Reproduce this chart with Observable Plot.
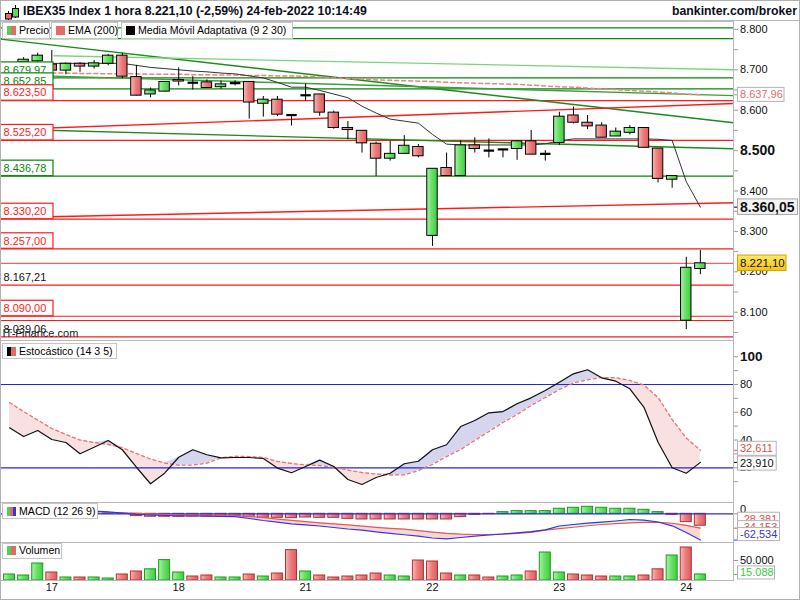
<!DOCTYPE html>
<html>
<head>
<meta charset="utf-8">
<script src="https://cdn.jsdelivr.net/npm/d3@7"></script>
<script src="https://cdn.jsdelivr.net/npm/@observablehq/plot@0.6"></script>
<style>
  html, body { margin: 0; padding: 0; background: #fff; }
  #chart { position: relative; width: 800px; height: 600px; overflow: hidden; background: #fff;
           font-family: "Liberation Sans", Arial, sans-serif; color: #000; }
  .legend { position: absolute; box-sizing: border-box; border: 1px solid #c4c4c4; background: #fff;
            font-size: 10.6px; white-space: nowrap; padding-left: 16px; z-index: 5; }
  .legend .icon { position: absolute; left: 4px; top: 3px; width: 9px; height: 9px; }
  .ttl { position: absolute; top: 0; height: 21px; line-height: 23px; font-weight: bold; font-size: 12.3px; color: #0d0d1a; z-index: 5; }
  .sep { position: absolute; left: 0; width: 800px; height: 1px; background: #b8b8b8; z-index: 6; }
  .border { position: absolute; left: 0; top: 0; width: 800px; height: 600px; box-sizing: border-box; border: 1px solid #b0b0b0; z-index: 7; pointer-events: none; }
</style>
</head>
<body>
<div id="chart"></div>
<script>
// ================= DATA =================
const titleText = "IBEX35 Index 1 hora 8.221,10 (-2,59%) 24-feb-2022 10:14:49";
const brandText = "bankinter.com/broker";
const dayLabels = ["17", "18", "21", "22", "23", "24"];
const dayStart  = [3, 12, 21, 30, 39, 48];

const open  = [8690,8719,8721,8713,8698,8715,8708,8715,8735,8682,8639,8646,8675,8668,8669,8657,8667,8670,8616,8626,8588,8637,8639,8594,8556,8549,8517,8480,8492,8509,8289,8457,8437,8513,8500,8503,8504,8523,8492,8519,8587,8569,8562,8535,8544,8556,8505,8428,8079,8207];
const high  = [8705,8730,8741,8748,8717,8718,8723,8738,8741,8711,8655,8671,8705,8683,8675,8672,8673,8671,8634,8634,8589,8665,8639,8598,8572,8549,8521,8523,8537,8515,8455,8494,8525,8532,8529,8503,8525,8550,8500,8595,8608,8587,8569,8556,8562,8556,8505,8437,8236,8253];
const low   = [8686,8715,8718,8696,8688,8694,8702,8710,8678,8635,8631,8645,8660,8650,8655,8652,8660,8578,8583,8584,8561,8622,8585,8553,8527,8494,8436,8474,8492,8482,8263,8437,8437,8494,8482,8482,8476,8490,8474,8513,8566,8552,8532,8535,8539,8507,8420,8407,8057,8193];
const close = [8700,8725,8735,8698,8715,8708,8716,8735,8683,8636,8649,8670,8671,8668,8655,8664,8667,8619,8626,8589,8588,8637,8594,8556,8551,8518,8480,8492,8512,8486,8455,8437,8513,8504,8500,8503,8523,8490,8492,8584,8569,8560,8532,8547,8556,8507,8430,8437,8210,8221.10];

const ema200 = [null,null,null,8692,8692,8691,8691,8690,8690,8690,8689,8689,8689,8688,8688,8687,8687,8686,8686,8685,8685,8684,8682,8680,8678,8677,8675,8674,8673,8672,8671,8669,8668,8667,8666,8665,8664,8662,8660,8658,8657,8655,8653,8651,8649,8647,8645,8643,8640,8637.96];
const ama    = [8716,8716,8716,8716,8716,8716,8716,8716,8716,8711,8706,8703,8700,8697,8695,8692,8690,8685,8680,8669,8657,8657,8649,8640,8631,8610,8593,8578,8573,8568,8540,8516,8514,8514,8514,8514,8514,8514,8517,8524,8529,8529,8529,8529,8529,8529,8528,8525,8423,8360.05];

const levelValues = [8804, 8777, 8679.97, 8652.85, 8623.50, 8525.20, 8436.78, 8330.20, 8257.00, 8221.10, 8167.21, 8090.00, 8079.5, 8039.06];
const levelKinds  = ["g", "g", "g", "g", "r", "r", "g", "r", "r", "p", "r", "r", "r", "r"];
const levelLabel  = ["", "", "box", "box", "box", "box", "box", "box", "box", "", "text", "box", "", "text"];

const trendX1 = [-0.64, 3.12, -0.64, -0.64, -0.64, -0.64];
const trendY1 = [8776, 8735, 8688, 8553.5, 8551.5, 8334];
const trendX2 = [51.35, 51.35, 51.35, 51.35, 51.35, 51.35];
const trendY2 = [8569, 8700, 8636, 8504.5, 8616.6, 8371];
const trendKind = ["dg", "lg", "mg", "dg", "r", "r"];

const mainTickLabels = [8100, 8200, 8300, 8400, 8600, 8700, 8800];
const mainBoldTick = [8500];
const mainMinorTicks = [8050, 8150, 8250, 8350, 8450, 8550, 8650, 8750];

const stochK = [48.8,42.5,46.9,40.4,38.2,30.1,34.8,39.7,33.0,20.4,8.5,16.1,27.6,33.0,29.4,27.2,27.4,27.4,26.7,19.8,16.4,20.9,25.5,20.9,11.6,8.0,13.0,16.1,22.9,24.7,33.0,36.6,49.7,54.1,59.6,60.5,66.1,70.4,75.7,81.7,87.7,90.6,84.8,82.4,76.9,63.6,38.4,20.0,16.1,23.910];
const stochD = [67.0,60.5,54.4,48.3,44.0,40.0,38.2,36.8,34.5,30.3,26.3,23.4,21.9,22.0,23.3,27.2,28.3,28.1,27.4,24.7,23.1,22.1,21.6,20.4,18.4,16.6,15.5,14.8,14.9,18.0,22.5,28.1,33.2,39.7,46.1,52.6,58.4,64.9,70.6,76.4,81.1,83.4,85.0,84.9,82.9,79.6,70.6,54.8,41.5,32.611];
const stochLevels = [20, 80];
const stochTickLabels = [20, 40, 60, 80];
const stochBoldTick = [100];
const stochMinorTicks = [10, 30, 50, 70, 90];

const macdLine   = [10,9,8.5,8,7.5,7,6.5,4.5,1.9,-1.2,-2.9,-4,-4.8,-5.2,-5.7,-6.4,-6.9,-11.2,-16,-20,-23.8,-26.2,-29,-32.6,-36.2,-39,-42.9,-46.4,-49.8,-53.3,-57.6,-59.5,-56.4,-52.9,-50.5,-48.1,-45.2,-42.6,-38.1,-29,-25.5,-22.4,-20,-17.1,-13.6,-15.2,-19.5,-28.6,-44.5,-62.534];
const macdSignal = [8,7.5,7,6.5,6,5.5,5.5,3.5,2.5,1.0,-0.3,-1.3,-2.2,-3.0,-3.5,-3.8,-4.2,-6,-9,-12.5,-15.5,-18.5,-21.5,-23.8,-26.5,-29.5,-32.3,-34.5,-36.5,-40,-43.5,-46.5,-48.5,-49.3,-49.5,-48.5,-46.5,-44,-39,-35.5,-32,-28.5,-25.5,-23.5,-21.5,-20.5,-20.5,-22.5,-27.5,-34.153];
const macdHist   = [1,1,1,1,1,0.5,0.5,1,-0.5,-5.5,-7,-7,-7,-6.5,-6.5,-6.5,-5.5,-8,-9.5,-9.5,-10.3,-8.8,-9.5,-9.5,-12,-13.5,-13.5,-13.5,-13.5,-13.5,-13.5,-13.5,-8,-2.4,-0.7,4,6.4,6.4,6.4,12,14.3,16.7,14.3,12,12,9.5,4,-2.4,-19.8,-28.381];

const volume = [15000,12500,42500,20000,7500,7500,7500,5000,15000,22500,28000,51000,20000,10000,12500,7500,7500,15000,10000,17500,76000,22500,12500,7500,10000,12500,17500,12500,10000,50000,47500,17500,12500,12500,7500,10000,12500,22500,70000,20000,15000,12500,10000,10000,10000,12500,28000,62500,82500,15088];
const volumeDir = ("uuududuudd" + "uuudduudud" + "duddddduud" + "ddudduuduu" + "ddduuddudu").split("");
</script>
<script>
// ============ helpers & layout ============
const fmtL = d3.formatLocale({decimal: ",", thousands: ".", grouping: [3], currency: ["", ""], minus: "-"});
const f0 = fmtL.format(",.0f"), f2 = fmtL.format(",.2f"), f3 = fmtL.format(",.3f");

const chart = document.getElementById("chart");
const FONT = '"Liberation Sans", Arial, sans-serif';
const X_DOM = [-0.64, 51.35];
const MR = 67;
const PXI = (800 - MR) / (X_DOM[1] - X_DOM[0]);
const XL = X_DOM[0], XR = X_DOM[1];
const HC = 0.37, HB = 0.39;
const GREEN = "#0b840b", RED = "#ff1a1a";
const kindColor = {g: GREEN, r: RED, p: "#f26262", dg: "#1c8a1c", lg: "#7ad67a", mg: "#3d9e3d"};

function makePanel({top, height, yDomain, marginBottom = 0, marks}) {
  const svg = Plot.plot({
    width: 800, height, marginLeft: 0, marginRight: MR, marginTop: 0, marginBottom,
    x: {domain: X_DOM, axis: null}, y: {domain: yDomain, axis: null},
    style: {background: "white", fontFamily: FONT, fontSize: "11px", color: "#000", overflow: "hidden"},
    marks
  });
  svg.style.position = "absolute"; svg.style.left = "0px"; svg.style.top = top + "px";
  chart.appendChild(svg);
  return svg;
}
const tickMarks = (vals, stroke = "#9a9a9a", len = 5) => Plot.ruleY(vals, {y: d => d, x1: XR, x2: XR + len / PXI, stroke});
const tickText = (vals, fmt, o = {}) => Plot.text(vals, {y: d => d, x: XR, dx: o.dx ?? 6.5, dy: o.dy ?? 0, text: d => fmt(d), textAnchor: "start",
  fontSize: o.fs ?? 11, fontWeight: o.bold ? "bold" : "normal", fill: o.color ?? "#111"});
function valueBox(v, pxv, o) {
  const h = o.h ?? 14;
  return [
    Plot.rect([v], {x1: XR + 4.5 / PXI, x2: XR + (4.5 + o.w) / PXI, y1: d => d - h / 2 / pxv, y2: d => d + h / 2 / pxv, dy: o.dy ?? 0,
      fill: o.fill ?? "white", stroke: o.stroke ?? "#b4b4b4"}),
    tickText([v], o.fmt, {dy: o.dy ?? 0, fs: o.fs, bold: o.bold, color: o.color})
  ];
}
const defsMark = () => {
  const g = document.createElementNS("http://www.w3.org/2000/svg", "g");
  g.innerHTML = `<defs>
    <linearGradient id="gUp" x1="0" x2="1" y1="0" y2="0"><stop offset="0" stop-color="#a8f3a8"/><stop offset="0.45" stop-color="#6ae26a"/><stop offset="1" stop-color="#3fcd3f"/></linearGradient>
    <linearGradient id="gDn" x1="0" x2="1" y1="0" y2="0"><stop offset="0" stop-color="#f7b8b8"/><stop offset="0.45" stop-color="#ec8080"/><stop offset="1" stop-color="#dc5c5c"/></linearGradient>
    <linearGradient id="gYel" x1="0" x2="0" y1="0" y2="1"><stop offset="0" stop-color="#ffe870"/><stop offset="1" stop-color="#f6c400"/></linearGradient>
  </defs>`;
  return g;
};

// ============ MAIN PANEL ============
const MAIN_DOM = [8030, 8819.6], MAIN_H = 319;
const pxvMain = MAIN_H / (MAIN_DOM[1] - MAIN_DOM[0]);
const candles = open.map((o, i) => ({i, o, h: high[i], l: low[i], c: close[i]}));
const bodiesUp = candles.filter(d => d.c > d.o), bodiesDn = candles.filter(d => d.c < d.o), dojis = candles.filter(d => d.c === d.o);
const levels = levelValues.map((v, k) => ({v, color: kindColor[levelKinds[k]], label: levelLabel[k]}));
const trends = trendX1.map((x, k) => ({x1: x, y1: trendY1[k], x2: trendX2[k], y2: trendY2[k], color: kindColor[trendKind[k]]}));
const emaData = ema200.map((v, i) => ({i, v})).filter(d => d.v != null);
const amaData = ama.map((v, i) => ({i, v}));

const leftLabelMarks = [];
levels.filter(d => d.label).sort((a, b) => b.v - a.v).forEach(d => {
  if (d.label === "box") {
    leftLabelMarks.push(Plot.rect([d], {x1: XL, x2: XL + 53 / PXI, y1: "v", y2: e => e.v + 15.5 / pxvMain, fill: "white", stroke: d.color, strokeWidth: 1.2}));
    leftLabelMarks.push(Plot.text([d], {x: XL, y: "v", dx: 3, dy: -7.8, text: e => f2(e.v), textAnchor: "start", fill: d.color, fontSize: 11}));
  } else {
    leftLabelMarks.push(Plot.text([d], {x: XL, y: "v", dx: 3, dy: -7.5, text: e => f2(e.v), textAnchor: "start", fill: "#111", fontSize: 11}));
  }
});

makePanel({top: 21, height: MAIN_H, yDomain: MAIN_DOM, marks: [
  defsMark,
  Plot.ruleY(levels, {y: "v", stroke: "color", strokeWidth: 1.2}),
  Plot.link(trends, {x1: "x1", y1: "y1", x2: "x2", y2: "y2", stroke: "color", strokeWidth: 1.4}),
  Plot.line(emaData, {x: "i", y: "v", stroke: "#e98484", strokeWidth: 1.5, strokeDasharray: "4,3"}),
  Plot.line(amaData, {x: "i", y: "v", stroke: "#333", strokeWidth: 1}),
  Plot.ruleX(candles, {x: "i", y1: "l", y2: "h", stroke: "#000", strokeWidth: 1}),
  Plot.rect(bodiesUp, {x1: d => d.i - HC, x2: d => d.i + HC, y1: "o", y2: "c", fill: "url(#gUp)", stroke: "#000", strokeWidth: 1}),
  Plot.rect(bodiesDn, {x1: d => d.i - HC, x2: d => d.i + HC, y1: "o", y2: "c", fill: "url(#gDn)", stroke: "#000", strokeWidth: 1}),
  Plot.link(dojis, {x1: d => d.i - HC, x2: d => d.i + HC, y1: "o", y2: "o", stroke: "#000", strokeWidth: 2.2}),
  ...leftLabelMarks,
  Plot.text(["IT-Finance.com"], {frameAnchor: "bottom-left", dx: 2, dy: -4, text: d => d, textAnchor: "start", fontSize: 11, fill: "#222"}),
  tickMarks(mainMinorTicks), tickMarks(mainTickLabels), tickMarks(mainBoldTick),
  tickText(mainTickLabels, f0),
  tickText(mainBoldTick, f0, {fs: 14, bold: true}),
  tickMarks([ema200[49]], "#e98484", 4),
  ...valueBox(ema200[49], pxvMain, {w: 46.5, fmt: f2, color: "#e46a6a"}),
  tickMarks([ama[49]], "#000", 4),
  ...valueBox(ama[49], pxvMain, {w: 60, h: 15.5, fmt: f2, fs: 14, bold: true, fill: "#f3f3f3", stroke: "#a8a8a8"}),
  ...valueBox(close[49], pxvMain, {w: 48.5, h: 15.5, fmt: f2, fs: 11.5, fill: "url(#gYel)", stroke: "#c9a800"}),
  Plot.frame({stroke: "#b8b8b8"})
]});

// ============ STOCHASTIC ============
const ST_DOM = [-5, 111.7], ST_H = 162;
const pxvSt = ST_H / (ST_DOM[1] - ST_DOM[0]);
const st = stochK.map((k, i) => ({i, k, d: stochD[i]}));
makePanel({top: 340, height: ST_H, yDomain: ST_DOM, marks: [
  Plot.areaY(st, {x: "i", y1: "d", y2: e => Math.max(e.k, e.d), fill: "#d5d5ee"}),
  Plot.areaY(st, {x: "i", y1: "d", y2: e => Math.min(e.k, e.d), fill: "#fae1e1"}),
  Plot.ruleY(stochLevels, {y: d => d, stroke: "#2626d6", strokeWidth: 1.2}),
  Plot.line(st, {x: "i", y: "d", stroke: "#e67272", strokeWidth: 1.3, strokeDasharray: "3,3"}),
  Plot.line(st, {x: "i", y: "k", stroke: "#111", strokeWidth: 1.2}),
  tickMarks(stochMinorTicks), tickMarks(stochTickLabels), tickMarks(stochBoldTick),
  tickText(stochTickLabels, d => String(d)),
  tickText(stochBoldTick, d => String(d), {fs: 13.5, bold: true}),
  tickMarks([stochD[49]], "#e05050", 4),
  ...valueBox(stochD[49], pxvSt, {w: 38.7, fmt: f3, color: "#e05050", dy: -1.5}),
  tickMarks([stochK[49]], "#000", 4),
  ...valueBox(stochK[49], pxvSt, {w: 38.7, fmt: f3, color: "#111", dy: 1.2}),
  Plot.frame({stroke: "#b8b8b8"})
]});

// ============ MACD ============
const MD_DOM = [-68.3, 26.9], MD_H = 40;
const pxvMd = MD_H / (MD_DOM[1] - MD_DOM[0]);
const md = macdLine.map((m, i) => ({i, m, s: macdSignal[i], h: macdHist[i]}));
makePanel({top: 502, height: MD_H, yDomain: MD_DOM, marks: [
  Plot.areaY(md, {x: "i", y1: "s", y2: e => Math.max(e.m, e.s), fill: "#d9f4d9"}),
  Plot.areaY(md, {x: "i", y1: "s", y2: e => Math.min(e.m, e.s), fill: "#f8d6d6"}),
  Plot.rect(md.filter(e => e.h >= 0), {x1: e => e.i - HB, x2: e => e.i + HB, y1: e => 0, y2: "h", fill: "url(#gUp)", stroke: "#1f981f"}),
  Plot.rect(md.filter(e => e.h < 0), {x1: e => e.i - HB, x2: e => e.i + HB, y1: e => 0, y2: "h", fill: "url(#gDn)", stroke: "#b03232"}),
  Plot.ruleY([0], {y: d => d, stroke: "#2a2ad8", strokeWidth: 1.2}),
  Plot.line(md, {x: "i", y: "s", stroke: "#e05a5a", strokeWidth: 1.2}),
  Plot.line(md, {x: "i", y: "m", stroke: "#3535e0", strokeWidth: 1.2}),
  tickMarks([0]),
  tickText([0], d => String(d), {dy: -4}),
  ...valueBox(macdHist[49], pxvMd, {w: 42, h: 13, fmt: f3, color: "#e05050", dy: -6.5}),
  tickMarks([macdSignal[49]], "#e05050", 4),
  ...valueBox(macdSignal[49], pxvMd, {w: 42, h: 12, fmt: f3, color: "#e05050", dy: -1}),
  tickMarks([macdLine[49]], "#3535e0", 4),
  ...valueBox(macdLine[49], pxvMd, {w: 42, h: 13, fmt: f3, color: "#3535d0", dy: -5.5}),
  Plot.frame({stroke: "#b8b8b8"})
]});

// ============ VOLUME ============
const VO_DOM = [0, 95000], VO_H = 58, VO_MB = 20;
const pxvVo = (VO_H - VO_MB) / (VO_DOM[1] - VO_DOM[0]);
const vo = volume.map((v, i) => ({i, v, dir: volumeDir[i]}));
makePanel({top: 542, height: VO_H, yDomain: VO_DOM, marginBottom: VO_MB, marks: [
  Plot.rect(vo.filter(e => e.dir === "u"), {x1: e => e.i - HB, x2: e => e.i + HB, y1: e => 0, y2: "v", fill: "url(#gUp)", stroke: "#1f981f"}),
  Plot.rect(vo.filter(e => e.dir === "d"), {x1: e => e.i - HB, x2: e => e.i + HB, y1: e => 0, y2: "v", fill: "url(#gDn)", stroke: "#b03232"}),
  tickMarks([50000]),
  tickText([50000], f0),
  tickMarks([volume[49]], "#3cc83c", 4),
  ...valueBox(volume[49], pxvVo, {w: 37, h: 13, fmt: f0, color: "#3cc83c", dy: -1.5}),
  Plot.text(dayLabels, {x: (d, k) => dayStart[k], frameAnchor: "bottom", dy: 10.5, text: d => d, fontSize: 11, fill: "#111"}),
  Plot.frame({stroke: "#b8b8b8"})
]});

// ============ HTML: title, legends, border ============
function addEl(tag, cls, style, html) {
  const e = document.createElement(tag);
  if (cls) e.className = cls;
  Object.assign(e.style, style);
  if (html != null) e.innerHTML = html;
  chart.appendChild(e);
  return e;
}
addEl("div", "", {position: "absolute", left: "0", top: "0", width: "800px", height: "21px", background: "#fff", zIndex: 4});
addEl("div", "", {position: "absolute", left: "2px", top: "2px", width: "18px", height: "18px", zIndex: 5},
  `<svg width="18" height="18"><line x1="6.5" y1="9" x2="6.5" y2="18" stroke="#000"/><rect x="3.5" y="11.5" width="6" height="5.5" fill="#e66" stroke="#000"/>
   <line x1="13.5" y1="3" x2="13.5" y2="16" stroke="#000"/><rect x="10.5" y="6.5" width="6" height="8.5" fill="#5d5" stroke="#000"/></svg>`);
const t = addEl("div", "ttl", {left: "23px"}); t.textContent = titleText;
const b = addEl("div", "ttl", {right: "3px"}); b.textContent = brandText;
addEl("div", "sep", {top: "20px"});

function legend(left, top, width, height, label, colors) {
  const d = addEl("div", "legend", {left: left + "px", top: top + "px", width: width + "px", height: height + "px", lineHeight: (height - 2) + "px"});
  const n = colors.length, stops = colors.map((c, k) => `${c} ${k * 100 / n}%, ${c} ${(k + 1) * 100 / n}%`).join(", ");
  const ic = document.createElement("span"); ic.className = "icon";
  ic.style.background = `linear-gradient(to right, ${stops})`;
  ic.style.top = ((height - 2 - 9) / 2) + "px";
  d.appendChild(ic);
  d.appendChild(document.createTextNode(label));
}
legend(2, 22, 47.5, 16.5, "Precio", ["#4fd34f", "#e46a6a"]);
legend(51, 22, 66.5, 16.5, "EMA (200)", ["#e46a6a"]);
legend(121, 22, 171.5, 16.5, "Media Móvil Adaptativa (9 2 30)", ["#000"]);
legend(2, 343, 115, 16, "Estocástico (14 3 5)", ["#000", "#e46a6a"]);
legend(2, 503, 95.5, 16, "MACD (12 26 9)", ["#4fd34f", "#e46a6a", "#3535e0"]);
legend(2, 543, 60, 15.5, "Volumen", ["#4fd34f", "#e46a6a"]);
addEl("div", "border", {});
</script>
</body>
</html>
